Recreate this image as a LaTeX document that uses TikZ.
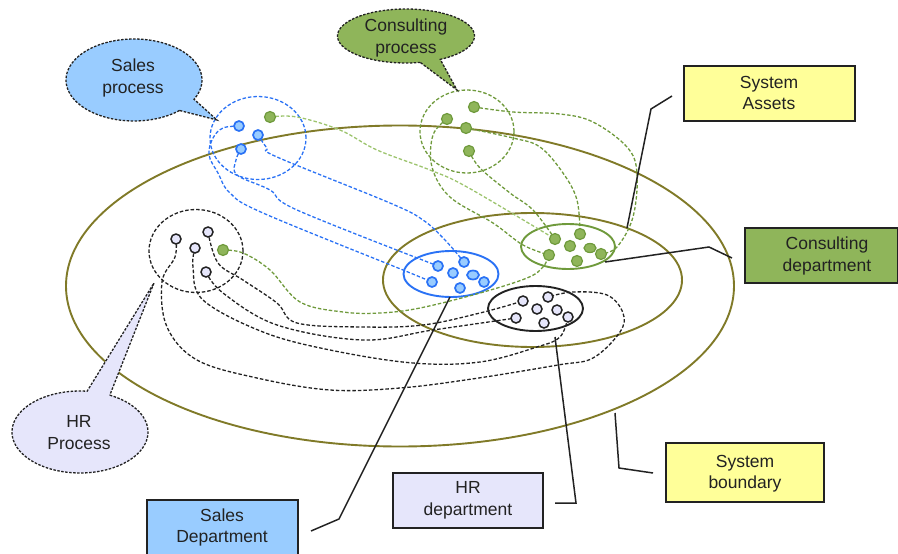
\documentclass[tikz,border=0pt]{standalone}
\usepackage{fontspec}
\setmainfont{Liberation Sans}
\usetikzlibrary{shapes.geometric,backgrounds}
\definecolor{olv}{HTML}{807A28}
\definecolor{bl}{HTML}{2A72F5}
\definecolor{blf}{HTML}{99CCFF}
\definecolor{gr}{HTML}{6F9A3C}
\definecolor{grf}{HTML}{8FB55A}
\definecolor{lgr}{HTML}{9DC46E}
\definecolor{lav}{HTML}{E6E6FB}
\definecolor{yel}{HTML}{FFFF99}
\definecolor{ink}{HTML}{222222}
\tikzset{
  txt/.style={font=\fontsize{17.5}{21.5}\selectfont,text=ink,align=center,inner sep=0pt},
  boxn/.style={draw=ink,line width=1.4pt,rectangle,inner sep=0pt},
  bigell/.style={ellipse,draw=olv,line width=1.9pt,inner sep=0pt},
  depell/.style={ellipse,line width=1.9pt,inner sep=0pt},
  procell/.style={ellipse,line width=1.3pt,inner sep=0pt,dash pattern=on 3.5pt off 2pt},
  dotb/.style={ellipse,draw=bl,fill=blf,line width=1.7pt,minimum width=10pt,minimum height=10pt,inner sep=0pt},
  dotg/.style={ellipse,draw=gr,fill=grf,line width=1.2pt,minimum width=11pt,minimum height=11pt,inner sep=0pt},
  dotk/.style={ellipse,draw=ink,fill=lav,line width=1.5pt,minimum width=10pt,minimum height=10pt,inner sep=0pt},
  conn/.style={line width=1.3pt,dash pattern=on 3.5pt off 2pt},
  co/.style={smooth,tension=0.6},
  callout/.style={draw=ink,line width=1.3pt,dash pattern=on 2.5pt off 1.5pt},
  leader/.style={draw=ink,line width=1.5pt},
}
\begin{document}
\begin{tikzpicture}[x=1pt,y=-1pt]
\useasboundingbox (0,0) rectangle (898,554);
% dots
\node[dotb] (b1) at (239,126) {};
\node[dotb] (b2) at (258,135) {};
\node[dotb] (b3) at (241,149) {};
\node[dotg] (g0) at (270,117) {};
\node[dotg] (g1) at (474,107) {};
\node[dotg] (g2) at (447,119) {};
\node[dotg] (g3) at (466,128) {};
\node[dotg] (g4) at (469,151) {};
\node[dotk] (k1) at (176,239) {};
\node[dotk] (k2) at (195,248) {};
\node[dotk] (k3) at (208,232) {};
\node[dotk] (k4) at (206,272) {};
\node[dotg] (g5) at (223,250) {};
\node[dotb] (B1) at (438,266) {};
\node[dotb] (B2) at (464,262) {};
\node[dotb] (B3) at (453,273) {};
\node[dotb,minimum width=12pt,minimum height=9pt] (B4) at (473,275) {};
\node[dotb] (B5) at (484,282) {};
\node[dotb] (B6) at (460,288) {};
\node[dotb] (B7) at (432,282) {};
\node[dotg] (G1) at (555,239) {};
\node[dotg] (G2) at (580,234) {};
\node[dotg] (G3) at (570,246) {};
\node[dotg,minimum width=12pt,minimum height=9pt] (G4) at (590,248) {};
\node[dotg] (G5) at (601,254) {};
\node[dotg] (G6) at (577,261) {};
\node[dotg] (G7) at (549,255) {};
\node[dotk] (K1) at (523,301) {};
\node[dotk] (K2) at (548,297) {};
\node[dotk] (K3) at (537,309) {};
\node[dotk] (K4) at (557,310) {};
\node[dotk] (K5) at (568,317) {};
\node[dotk] (K6) at (544,323) {};
\node[dotk] (K7) at (516,318) {};
\begin{pgfonlayer}{background}
% boundaries
\node[bigell,minimum width=668pt,minimum height=321pt] (sys) at (400,286) {};
\node[bigell,minimum width=299pt,minimum height=134pt] (cons) at (532.5,280) {};
\node[depell,draw=bl,minimum width=95pt,minimum height=46pt] (sdep) at (451,274) {};
\node[depell,draw=gr,minimum width=94pt,minimum height=45pt] (cdep) at (568,246.5) {};
\node[depell,draw=ink,minimum width=95pt,minimum height=45pt] (hdep) at (535.5,308.5) {};
\node[procell,draw=bl,minimum width=96pt,minimum height=83pt] (sp) at (258,138) {};
\node[procell,draw=gr,minimum width=94pt,minimum height=83pt] (cp) at (467,131.5) {};
\node[procell,draw=ink,minimum width=94pt,minimum height=83pt] (hp) at (196,251) {};
% blue connectors
\draw[conn,bl] plot[co] coordinates {(b1) (223,128) (213,138) (209,155) (218,173) (230,193) (263,213) (403,270) (B7)};
\draw[conn,bl] plot[co] coordinates {(b3) (236,160) (237,175) (270,190) (297,210) (B1)};
\draw[conn,bl] plot[co] coordinates {(b2) (267,148) (277,157) (390,203) (423,220) (445,240) (B2)};
% green connectors
\draw[conn,lgr] plot[co] coordinates {(g0) (297,117) (340,130) (377,150) (430,170) (467,187) (G1)};
\draw[conn,gr] plot[co] coordinates {(g1) (513,112) (560,114) (593,122) (627,147) (637,173) (633,217) (617,247) (G5)};
\draw[conn,gr] plot[co] coordinates {(g2) (433,135) (432,167) (450,197) (493,223) (523,245) (G7)};
\draw[conn,gr] plot[co] coordinates {(g3) (513,138) (540,147) (563,173) (577,200) (G2)};
\draw[conn,gr] plot[co] coordinates {(g4) (480,168) (510,193) (533,210) (G1)};
\draw[conn,gr] plot[co] coordinates {(g5) (243,253) (270,270) (300,302) (343,312) (380,313) (420,308) (480,293) (527,278) (543,267) (G7)};
% black connectors
\draw[conn,ink] plot[co] coordinates {(k3) (218,263) (243,280) (277,303) (297,323) (363,327) (423,325) (480,313) (K1)};
\draw[conn,ink] plot[co] coordinates {(k4) (223,293) (277,325) (363,340) (433,330) (K7)};
\draw[conn,ink] plot[co] coordinates {(k2) (193,267) (203,300) (263,332) (330,350) (413,363) (480,362) (537,347) (560,337) (K5)};
\draw[conn,ink] plot[co] coordinates {(k1) (175,257) (162,282) (167,327) (197,360) (257,378) (330,390) (400,388) (472,379) (558,365) (593,358) (620,332) (623,313) (607,295) (573,292) (K2)};
\end{pgfonlayer}
% callouts
\draw[callout,fill=blf] plot[domain=48:388,samples=90] ({134+68*cos(\x)},{80+41*sin(\x)}) -- (217,120) -- cycle;
\node[txt] (tsales) at (133,78) {Sales\\process};
\draw[callout,fill=grf] plot[domain=78:420,samples=90] ({406+68.5*cos(\x)},{36+27*sin(\x)}) -- (457,90) -- cycle;
\node[txt] (tcons) at (406,38) {Consulting\\process};
\draw[callout,fill=lav] plot[domain=-64:276,samples=90] ({80+68*cos(\x)},{432+41*sin(\x)}) -- (154,283) -- cycle;
\node[txt] (thr) at (79,432.5) {HR\\Process};
% boxes
\node[boxn,fill=yel,minimum width=171pt,minimum height=55pt] (assets) at (769.5,93.5) {};
\node[txt] (tassets) at (769,93) {System\\Assets};
\node[boxn,fill=grf,minimum width=153pt,minimum height=55pt] (cdbox) at (821.5,255.5) {};
\node[txt] (tcd) at (827,256) {Consulting\\department};
\node[boxn,fill=yel,minimum width=158pt,minimum height=59pt] (sbox) at (745,472.5) {};
\node[txt] (tsb) at (745,473.5) {System\\boundary};
\node[boxn,fill=lav,minimum width=150pt,minimum height=55pt] (hbox) at (468,500.5) {};
\node[txt] (thd) at (468,500.5) {HR\\department};
\node[boxn,fill=blf,minimum width=151pt,minimum height=58pt] (sdbox) at (222.5,529) {};
\node[txt] (tsd) at (222,527.5) {Sales\\Department};
% leaders
\coordinate (a0) at (672,96); \coordinate (a1) at (651,109); \coordinate (a2) at (627,228);
\coordinate (c0) at (732,258); \coordinate (c1) at (709,247); \coordinate (c2) at (605,262);
\coordinate (s0) at (653,473); \coordinate (s1) at (619,468); \coordinate (s2) at (615,413);
\coordinate (h0) at (555,503); \coordinate (h1) at (576,503); \coordinate (h2) at (555,337);
\coordinate (d0) at (311,531); \coordinate (d1) at (339,519); \coordinate (d2) at (450,297);
\draw[leader] (a0) -- (a1) -- (a2);
\draw[leader] (c0) -- (c1) -- (c2);
\draw[leader] (s0) -- (s1) -- (s2);
\draw[leader] (h0) -- (h1) -- (h2);
\draw[leader] (d0) -- (d1) -- (d2);
\end{tikzpicture}
\end{document}
